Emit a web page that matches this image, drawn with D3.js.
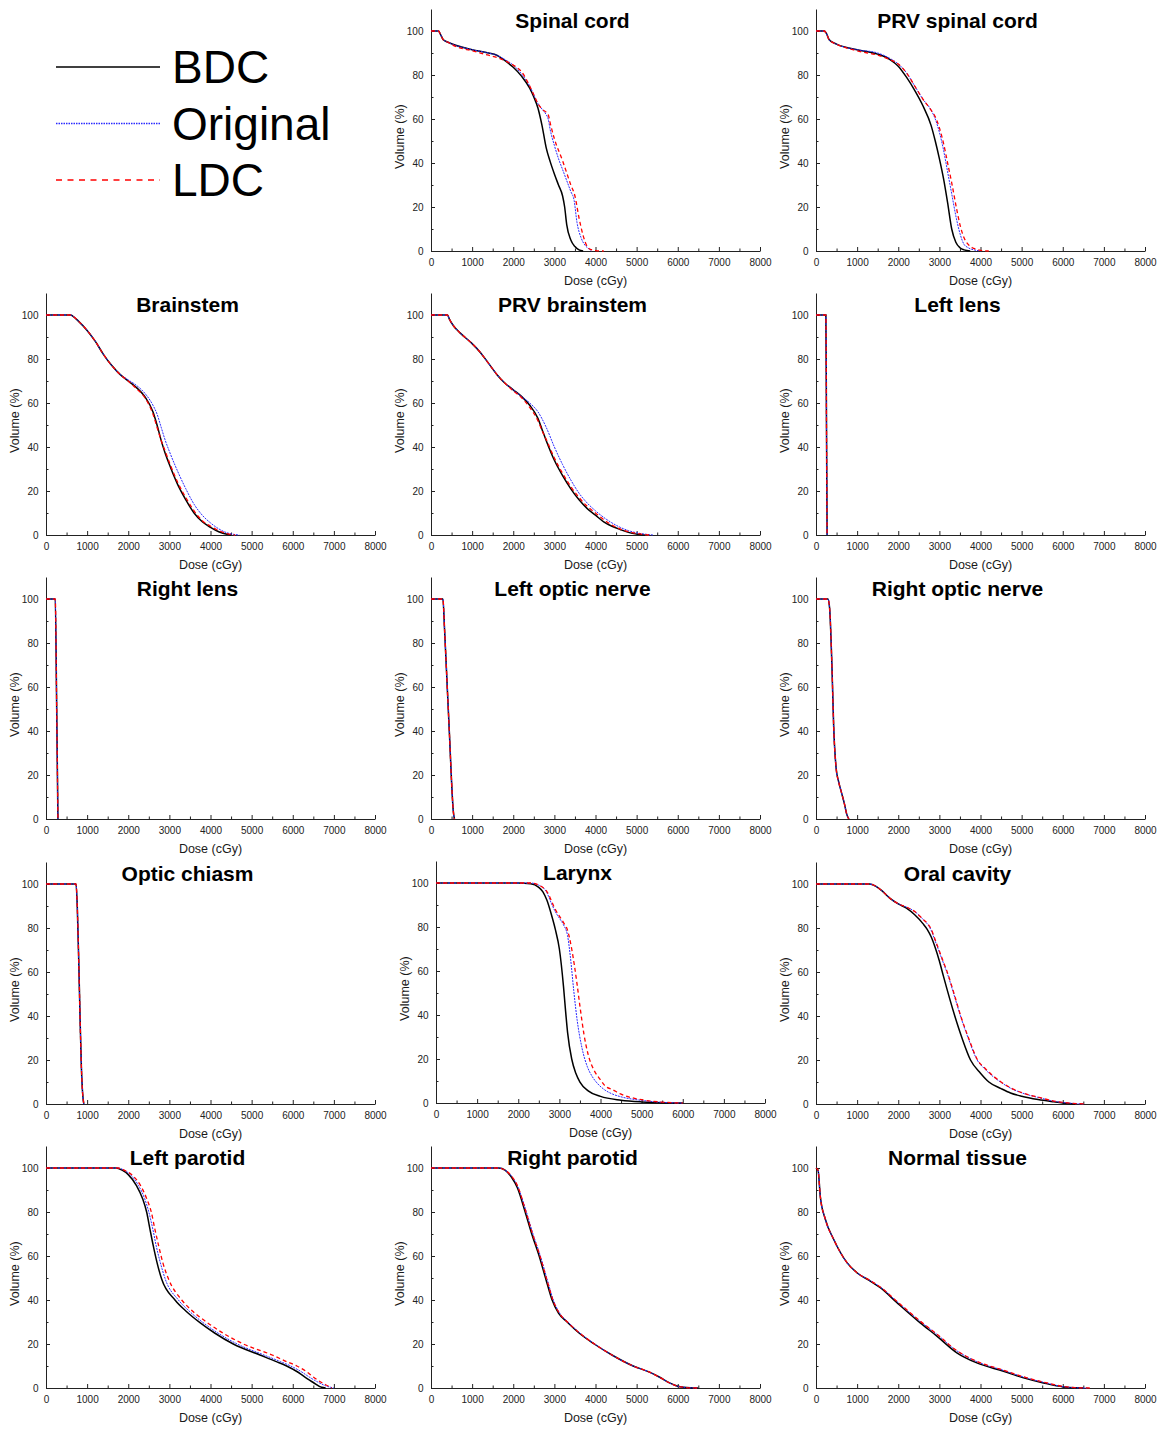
<!DOCTYPE html>
<html>
<head>
<meta charset="utf-8">
<title>DVH comparison</title>
<script src="https://cdn.jsdelivr.net/npm/d3@7"></script>
<style>
  body { margin: 0; background: #fff; }
  svg { display: block; font-family: Arial, "Liberation Sans", sans-serif; }
  .tick text { font-size: 10px; fill: #222; }
  .domain, .tick line { stroke: #222; }
</style>
</head>
<body>
<script>
// ---- data: [dose (cGy), volume (%)] ----
const seriesNames = ["BDC", "Original", "LDC"];
const organs = ["Spinal cord", "PRV spinal cord", "Brainstem", "PRV brainstem", "Left lens",
  "Right lens", "Left optic nerve", "Right optic nerve", "Optic chiasm", "Larynx",
  "Oral cavity", "Left parotid", "Right parotid", "Normal tissue"];
const doseTicks = [0, 1000, 2000, 3000, 4000, 5000, 6000, 7000, 8000];
const volumeTicks = [0, 20, 40, 60, 80, 100];

const spinalCordBDC = [[0,100],[180,100],[230,98.5],[300,96],[400,95],[600,93.5],[1000,91.5],[1400,90],[1600,89],[1800,86.5],[2000,83.5],[2200,79.5],[2400,74],[2500,70],[2600,65],[2700,57],[2800,47],[2900,40.5],[3000,35],[3100,30],[3200,25],[3250,20],[3300,12],[3400,5],[3500,2],[3600,0.5],[3700,0]];
const spinalCordOrig = [[0,100],[180,100],[230,98.5],[300,96],[400,95],[600,93.5],[1000,91.5],[1400,90],[1600,89],[1800,87],[2000,84.5],[2200,80.5],[2400,75],[2500,71],[2600,67],[2700,64.5],[2800,62],[2850,60],[2900,55],[3000,48],[3100,42],[3200,37],[3300,32],[3400,27],[3480,23],[3550,13],[3650,6],[3750,2.5],[3850,0.8],[3900,0]];
const spinalCordLDC = [[0,100],[180,100],[230,98.5],[300,96],[400,95],[600,93],[1000,91],[1400,89],[1600,88],[1800,86.5],[2000,84.5],[2200,81.5],[2400,75],[2500,71],[2600,67],[2700,64.5],[2850,62],[2900,58],[3000,51],[3200,41],[3400,30],[3500,25],[3600,15],[3700,7],[3800,2],[3900,0.6],[4000,0.2],[4200,0]];

const prvSpinalBDC = [[0,100],[200,100],[250,99],[320,96],[500,94],[1000,91.5],[1500,89.5],[1800,87],[2000,84],[2200,79],[2400,73],[2600,66],[2800,57],[2900,50],[3000,42],[3100,33],[3200,22],[3300,10],[3400,4],[3500,1.5],[3600,0.5],[3750,0]];
const prvSpinalOrig = [[0,100],[200,100],[250,99],[320,96],[500,94],[1000,91.5],[1500,90],[1800,87.5],[2000,85],[2200,81],[2400,75],[2600,69],[2800,64],[2900,60],[3000,54],[3100,46],[3200,36],[3300,26],[3400,16],[3500,8],[3600,3],[3700,1.5],[3900,0.3],[4000,0]];
const prvSpinalLDC = [[0,100],[200,100],[250,99],[320,96],[500,94],[1000,91],[1500,89],[1800,87],[2000,85],[2200,81],[2400,75],[2600,69],[2800,64],[2900,61],[3000,56],[3100,49],[3200,40],[3300,31],[3400,21],[3500,12],[3600,6],[3700,3],[3800,1.5],[3900,0.8],[4000,0.3],[4200,0]];

const brainstemBDC = [[0,100],[600,100],[650,99.5],[800,97],[1000,93],[1200,88],[1400,82],[1600,77],[1800,73],[2000,70],[2200,67],[2400,63],[2600,56],[2700,50],[2800,43],[2900,37],[3000,32],[3200,23],[3400,16],[3600,10],[3800,6],[4000,3.5],[4200,1.5],[4400,0.3],[4500,0]];
const brainstemOrig = [[0,100],[600,100],[650,99.5],[800,97],[1000,93],[1200,88],[1400,82],[1600,77],[1800,73],[2000,70.5],[2200,68],[2400,64.5],[2600,59],[2700,55],[2800,49],[2900,43],[3000,38],[3200,29],[3400,21],[3600,14],[3800,9],[4000,5.5],[4200,2.8],[4400,1],[4600,0.2],[4700,0]];
const brainstemLDC = [[0,100],[600,100],[650,99.5],[800,97],[1000,93],[1200,88],[1400,82],[1600,77],[1800,73],[2000,70],[2200,66.5],[2400,62.5],[2600,55],[2700,49],[2800,43],[2900,38],[3000,33],[3200,24],[3400,17],[3600,11],[3800,6.5],[4000,4],[4200,2],[4400,0.6],[4600,0]];

const prvBrainstemBDC = [[0,100],[400,100],[450,98],[550,95],[700,92],[1000,87],[1200,83],[1400,78],[1600,73],[1800,69],[2000,66],[2200,63],[2400,59],[2600,53],[2700,48],[2800,43],[3000,34],[3200,27],[3400,21],[3600,16],[3800,12],[4000,9],[4200,6],[4400,4],[4600,2.5],[4800,1.2],[5000,0.4],[5200,0]];
const prvBrainstemOrig = [[0,100],[400,100],[450,98],[550,95],[700,92],[1000,87],[1200,83],[1400,78],[1600,73],[1800,69],[2000,66],[2200,63],[2400,60],[2600,56],[2800,49],[3000,40],[3200,32],[3400,25],[3600,19],[3800,14.5],[4000,11],[4200,8],[4400,5.5],[4600,3.5],[4800,2],[5000,1],[5200,0.4],[5400,0]];
const prvBrainstemLDC = [[0,100],[400,100],[450,98],[550,95],[700,92],[1000,87],[1200,83],[1400,78],[1600,73],[1800,69],[2000,65.5],[2200,62.5],[2400,58],[2600,52],[2700,47.5],[2800,43.5],[3000,35],[3200,28],[3400,22],[3600,17],[3800,13],[4000,10],[4200,7],[4500,3.5],[4800,1.5],[5000,0.7],[5300,0]];

const leftLens = [[0,100],[240,100],[255,50],[270,0]];
const rightLens = [[0,100],[225,100],[260,50],[290,0]];
const leftOpticNerve = [[0,100],[290,100],[330,86],[400,58],[450,38],[500,17],[540,4],[570,0]];
const rightOpticNerve = [[0,100],[290,100],[330,96],[390,68],[430,42],[490,23],[550,17],[620,12],[690,7],[750,2],[800,0]];
const opticChiasm = [[0,100],[730,100],[760,90],[800,62],[830,38],[860,17],[890,5],[920,0]];

const larynxBDC = [[0,100],[2000,100],[2300,99.7],[2500,98],[2600,96],[2700,92],[2800,86],[2900,79],[3000,70],[3100,53],[3150,42],[3200,32],[3300,20],[3400,13.5],[3500,9.5],[3700,5.5],[4000,3],[4500,1.3],[5000,0.5],[5500,0.1],[6000,0]];
const larynxOrig = [[0,100],[2300,100],[2500,99],[2600,98],[2700,95.5],[2800,91],[2900,87],[3000,84],[3100,81],[3200,76],[3270,66],[3350,51],[3430,38],[3550,25],[3680,16.5],[3800,12],[3920,9],[4100,6],[4300,4],[4500,2.8],[5000,1.2],[5500,0.3],[6000,0]];
const larynxLDC = [[0,100],[2300,100],[2500,99],[2700,96],[2900,88],[3100,82],[3190,79],[3300,70],[3430,54],[3500,44],[3600,31],[3700,22],[3840,15],[4000,10.5],[4100,8],[4300,6],[4500,4],[5000,1.5],[5500,0.4],[6000,0]];

const oralBDC = [[0,100],[1300,100],[1450,99],[1600,97],[1800,93.5],[2000,91],[2200,89],[2400,86],[2600,82],[2700,79.5],[2800,76],[2900,71],[3000,65],[3100,58],[3375,40],[3550,30],[3757,20],[4000,14],[4203,10],[4500,7],[4730,5],[5000,3.5],[5400,2],[5785,1],[6000,0.5],[6300,0]];
const oralOrig = [[0,100],[1300,100],[1450,99],[1600,97],[1800,93.5],[2000,91],[2200,89.5],[2400,87.5],[2600,84],[2700,82],[2800,79],[2900,74],[3000,69],[3100,64],[3200,59],[3350,50],[3513,40],[3700,30],[3919,20],[4100,16],[4487,10],[4750,7],[5014,5],[5400,3],[5866,1],[6100,0.5],[6500,0]];
const oralLDC = [[0,100],[1300,100],[1450,99],[1600,97],[1800,93.5],[2000,91],[2200,89.5],[2400,87.5],[2600,84],[2700,82.3],[2800,79.5],[2900,74.5],[3000,69.5],[3100,64.5],[3200,59.5],[3360,50],[3520,40],[3710,30],[3930,20],[4120,16],[4500,10],[4770,7],[5030,5],[5420,3],[5880,1],[6120,0.5],[6550,0]];

const leftParotidBDC = [[0,100],[1700,100],[1850,99],[2000,97],[2200,92],[2350,86],[2447,80],[2530,72],[2609,64.6],[2700,57],[2812,49.5],[3136,40],[3400,35],[3744,29.7],[4100,25],[4554,20],[5203,15],[5600,12],[5851,10],[6100,7.5],[6256,5.5],[6500,2.5],[6702,0.3],[6800,0]];
const leftParotidOrig = [[0,100],[1750,100],[1900,99],[2050,97],[2250,92],[2400,86],[2500,80],[2600,72],[2680,64.6],[2780,57],[2900,49.5],[3220,40],[3480,35],[3800,30],[4180,25],[4650,20],[5300,15],[5700,12],[5950,10],[6200,7.5],[6400,5],[6600,2.8],[6800,1],[7000,0]];
const leftParotidLDC = [[0,100],[1750,100],[1900,99],[2080,97],[2300,92],[2450,86],[2560,80],[2650,72],[2740,64.6],[2840,57],[2980,49.5],[3300,40],[3560,35],[3900,30],[4300,25],[4800,20],[5500,15],[5850,12],[6100,10],[6330,7.5],[6500,5],[6700,2.5],[6850,1],[6950,0]];

const rightParotidBDC = [[0,100],[1650,100],[1800,99],[1950,96],[2100,91],[2290,80],[2450,70],[2630,60],[2800,49],[2945,40],[3100,34],[3310,30],[3600,25],[3970,20],[4400,15],[4915,10],[5300,7.3],[5550,5],[5800,2.3],[6000,0.8],[6300,0.1],[6500,0]];
const rightParotidOrig = [[0,100],[1650,100],[1800,99],[1950,96.5],[2100,92],[2320,80],[2480,70],[2660,60],[2830,49],[2975,40],[3130,34],[3330,30],[3620,25],[3980,20],[4400,15],[4915,10],[5300,7.3],[5550,5],[5800,2.3],[6000,0.8],[6300,0.1],[6500,0]];
const rightParotidLDC = [[0,100],[1650,100],[1800,99],[1950,96.5],[2100,92],[2310,80],[2470,70],[2650,60],[2820,49],[2965,40],[3120,34],[3320,30],[3610,25],[3975,20],[4400,15],[4915,10],[5300,7.3],[5550,5],[5800,2.3],[6000,0.8],[6300,0.1],[6500,0]];

const normalBDC = [[0,100],[50,99],[105,87],[227,76.7],[429,67.6],[753,57],[996,52.4],[1320,48.6],[1563,45.6],[1968,38.8],[2534,29.6],[2939,23.6],[3425,16],[3911,11.4],[4559,7.6],[5045,4.6],[5530,2.3],[6016,0.5],[6300,0.1],[6500,0]];
const normalOrig = [[0,100],[50,99],[105,87],[227,76.7],[429,67.6],[753,57],[996,52.4],[1320,48.8],[1563,45.9],[1968,39.3],[2534,30.3],[2939,24.4],[3425,16.9],[3911,12],[4559,8],[5045,5],[5530,2.6],[6016,0.6],[6300,0.1],[6600,0]];
const normalLDC = [[0,100],[50,99],[105,87],[227,76.7],[429,67.6],[753,57],[996,52.4],[1320,48.8],[1563,45.9],[1968,39.4],[2534,30.4],[2939,24.5],[3425,17],[3911,12.1],[4559,8.1],[5045,5.1],[5530,2.7],[6016,0.7],[6300,0.15],[6700,0]];

const organSeries = [
  [spinalCordBDC, spinalCordOrig, spinalCordLDC],
  [prvSpinalBDC, prvSpinalOrig, prvSpinalLDC],
  [brainstemBDC, brainstemOrig, brainstemLDC],
  [prvBrainstemBDC, prvBrainstemOrig, prvBrainstemLDC],
  [leftLens, leftLens, leftLens],
  [rightLens, rightLens, rightLens],
  [leftOpticNerve, leftOpticNerve, leftOpticNerve],
  [rightOpticNerve, rightOpticNerve, rightOpticNerve],
  [opticChiasm, opticChiasm, opticChiasm],
  [larynxBDC, larynxOrig, larynxLDC],
  [oralBDC, oralOrig, oralLDC],
  [leftParotidBDC, leftParotidOrig, leftParotidLDC],
  [rightParotidBDC, rightParotidOrig, rightParotidLDC],
  [normalBDC, normalOrig, normalLDC]
];

// ---- layout ----
const width = 1157, height = 1429;
const colX = [46, 431, 816];          // x of dose 0 per column
const rowY = [251, 535, 819, 1104, 1388]; // y of volume 0 per row
const plotW = 329, plotH = 242;       // 0..8000 cGy, 0..110 %
const styles = [
  { color: "#000", width: 1.5, dash: null, legendDash: null },
  { color: "#2a2aff", width: 1, dash: "2,1", legendDash: "1.5,1" },
  { color: "#ff0000", width: 1.3, dash: "4,3", legendDash: "6,5.5" }
];

const svg = d3.select("body").append("svg")
  .attr("width", width)
  .attr("height", height);

svg.append("rect").attr("width", width).attr("height", height).attr("fill", "#fff");

const x = d3.scaleLinear().domain([0, 8000]).range([0, plotW]);
const y = d3.scaleLinear().domain([0, 110]).range([plotH, 0]);

const line = d3.line()
  .x(d => x(d[0]))
  .y(d => y(d[1]))
  .curve(d3.curveMonotoneX);

// legend in the first cell
const legend = svg.append("g");
seriesNames.forEach((name, i) => {
  const ly = 67 + i * 56.5;
  legend.append("line")
    .attr("x1", 56).attr("x2", 160)
    .attr("y1", ly).attr("y2", ly)
    .attr("stroke", styles[i].color)
    .attr("stroke-width", i === 0 ? 1.5 : 1.4)
    .attr("stroke-dasharray", styles[i].legendDash);
  legend.append("text")
    .attr("x", 172).attr("y", ly + 16)
    .attr("font-size", 46)
    .attr("fill", "#000")
    .text(name);
});

organs.forEach((organ, k) => {
  const cell = k + 1;
  const col = cell % 3, row = Math.floor(cell / 3);
  const dx = organ === "Larynx" ? 5 : 0;
  const dy = organ === "Larynx" ? -1 : 0;
  const g = svg.append("g")
    .attr("transform", `translate(${colX[col] + dx},${rowY[row] + dy - plotH})`);

  // minor ticks
  g.append("g")
    .attr("transform", `translate(0,${plotH})`)
    .call(d3.axisBottom(x).tickValues(d3.range(500, 8000, 1000)).tickSize(-2.5).tickFormat(""))
    .call(a => a.select(".domain").remove());
  g.append("g")
    .call(d3.axisLeft(y).tickValues(d3.range(10, 100, 20)).tickSize(-2.5).tickFormat(""))
    .call(a => a.select(".domain").remove());

  // major axes
  g.append("g")
    .attr("transform", `translate(0,${plotH})`)
    .call(d3.axisBottom(x).tickValues(doseTicks).tickFormat(d3.format("d"))
      .tickSizeInner(-4).tickSizeOuter(0).tickPadding(8));
  g.append("g")
    .call(d3.axisLeft(y).tickValues(volumeTicks).tickFormat(d3.format("d"))
      .tickSizeInner(-4).tickSizeOuter(0).tickPadding(7.5));

  g.selectAll(".tick text").attr("font-family", "Arial, 'Liberation Sans', sans-serif");

  g.append("text")
    .attr("x", plotW / 2).attr("y", plotH + 34)
    .attr("text-anchor", "middle")
    .attr("font-size", 12.5)
    .attr("fill", "#1a1a1a")
    .text("Dose (cGy)");

  g.append("text")
    .attr("transform", `translate(-27,${y(52)}) rotate(-90)`)
    .attr("text-anchor", "middle")
    .attr("font-size", 12.5)
    .attr("fill", "#1a1a1a")
    .text("Volume (%)");

  g.append("text")
    .attr("x", plotW / 2 - 23).attr("y", plotH - 223)
    .attr("text-anchor", "middle")
    .attr("font-size", 21)
    .attr("font-weight", "bold")
    .attr("fill", "#000")
    .text(organ);

  organSeries[k].forEach((pts, i) => {
    g.append("path")
      .datum(pts)
      .attr("d", line)
      .attr("fill", "none")
      .attr("stroke", styles[i].color)
      .attr("stroke-width", styles[i].width)
      .attr("stroke-dasharray", styles[i].dash);
  });
});
</script>
</body>
</html>
